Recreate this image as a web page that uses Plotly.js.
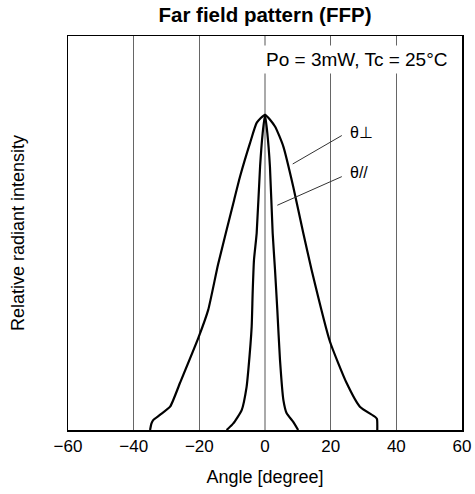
<!DOCTYPE html>
<html>
<head>
<meta charset="utf-8">
<script src="https://cdn.plot.ly/plotly-3.0.1.min.js"></script>
<style>html,body{margin:0;padding:0;background:#fff;}#chart{width:475px;height:494px;}</style>
</head>
<body>
<div id="chart"></div>
<script>
// θ⊥ (wide) curve
const perpAngle = [-35, -34.6, -34, -32, -28.9, -25.9, -20.3, -17.3, -14.3, -9.4, -7.6, -4.57, -2.5, 0, 3.05, 5.57, 8.6, 11.67, 14.2, 19.8, 24.9, 28.9, 33.5, 34.1, 34.2];
const perpIntensity = [0, 0.02, 0.032, 0.048, 0.074, 0.149, 0.292, 0.381, 0.525, 0.73, 0.804, 0.91, 0.975, 1.0, 0.963, 0.9, 0.772, 0.624, 0.508, 0.28, 0.148, 0.074, 0.042, 0.035, 0];
// θ// (narrow) curve
const parAngle = [-11.7, -9.65, -7.1, -5.6, -5.08, -4.06, -3.76, -3.35, -2.54, -1.5, -0.71, 0, 0.71, 1.5, 2.34, 3.05, 3.75, 4.57, 5.6, 6.6, 8.6, 10.1];
const parIntensity = [0, 0.021, 0.063, 0.137, 0.19, 0.328, 0.434, 0.54, 0.624, 0.836, 0.942, 1.0, 0.942, 0.836, 0.624, 0.508, 0.381, 0.222, 0.095, 0.053, 0.026, 0];

const xTicks = [-60, -40, -20, 0, 20, 40, 60];
const xTickLabels = ['\u221260', '\u221240', '\u221220', '0', '20', '40', '60'];

const labels = ['\u03b8\u22a5', '\u03b8//'];
const labelX = [25.3, 25.3];
const labelY = [0.943, 0.816];
const leaderFromX = [23.85, 23.85];
const leaderFromY = [0.937, 0.806];
const leaderToX = [8.44, 3.75];
const leaderToY = [0.844, 0.713];

const condition = 'Po = 3mW, Tc = 25\u00b0C';

const lineStyle = {color: '#000', width: 2.2, shape: 'spline', smoothing: 0.5};
const traces = [
  {x: perpAngle, y: perpIntensity, mode: 'lines', line: lineStyle, hoverinfo: 'skip'},
  {x: parAngle, y: parIntensity, mode: 'lines', line: lineStyle, hoverinfo: 'skip'}
];

const annotations = [];
for (let i = 0; i < labels.length; i++) {
  annotations.push({x: leaderToX[i], y: leaderToY[i], ax: leaderFromX[i], ay: leaderFromY[i],
    xref: 'x', yref: 'y', axref: 'x', ayref: 'y', text: '', showarrow: true,
    arrowhead: 0, arrowwidth: 1, arrowcolor: '#333'});
  annotations.push({x: labelX[i], y: labelY[i], xref: 'x', yref: 'y', text: labels[i],
    showarrow: false, xanchor: 'left', yanchor: 'middle',
    font: {family: 'Liberation Sans, Arial, sans-serif', size: 16, color: '#000'}});
}
annotations.push({x: 57, y: 1.175, xref: 'x', yref: 'y', text: condition, showarrow: false,
  xanchor: 'right', yanchor: 'middle', bgcolor: '#fff', borderpad: 3,
  font: {family: 'Liberation Sans, Arial, sans-serif', size: 19, color: '#000'}});

const layout = {
  width: 475, height: 494,
  margin: {l: 68, r: 13, t: 36, b: 64},
  paper_bgcolor: '#fff', plot_bgcolor: '#fff',
  showlegend: false,
  font: {family: 'Liberation Sans, Arial, sans-serif', color: '#000'},
  title: {text: '<b>Far field pattern (FFP)</b>', x: 0.5, xref: 'paper', xanchor: 'center', y: 0.97, yanchor: 'middle',
    font: {size: 20.5, color: '#000'}},
  xaxis: {range: [-60, 60], tickvals: xTicks, ticktext: xTickLabels, ticks: '',
    tickfont: {size: 17}, showgrid: true, gridcolor: '#666', gridwidth: 1,
    zeroline: true, zerolinecolor: '#aaa', zerolinewidth: 1.5,
    showline: true, linecolor: '#000', linewidth: 1.5, mirror: true,
    title: {text: 'Angle [degree]', font: {size: 18}, standoff: 15}, fixedrange: true},
  yaxis: {range: [0, 1.25], showticklabels: false, ticks: '', showgrid: false, zeroline: false,
    showline: true, linecolor: '#000', linewidth: 1.5, mirror: true,
    title: {text: 'Relative radiant intensity', font: {size: 18}, standoff: 37}, fixedrange: true},
  annotations: annotations
};

Plotly.newPlot('chart', traces, layout, {displayModeBar: false, staticPlot: true});
</script>
</body>
</html>
